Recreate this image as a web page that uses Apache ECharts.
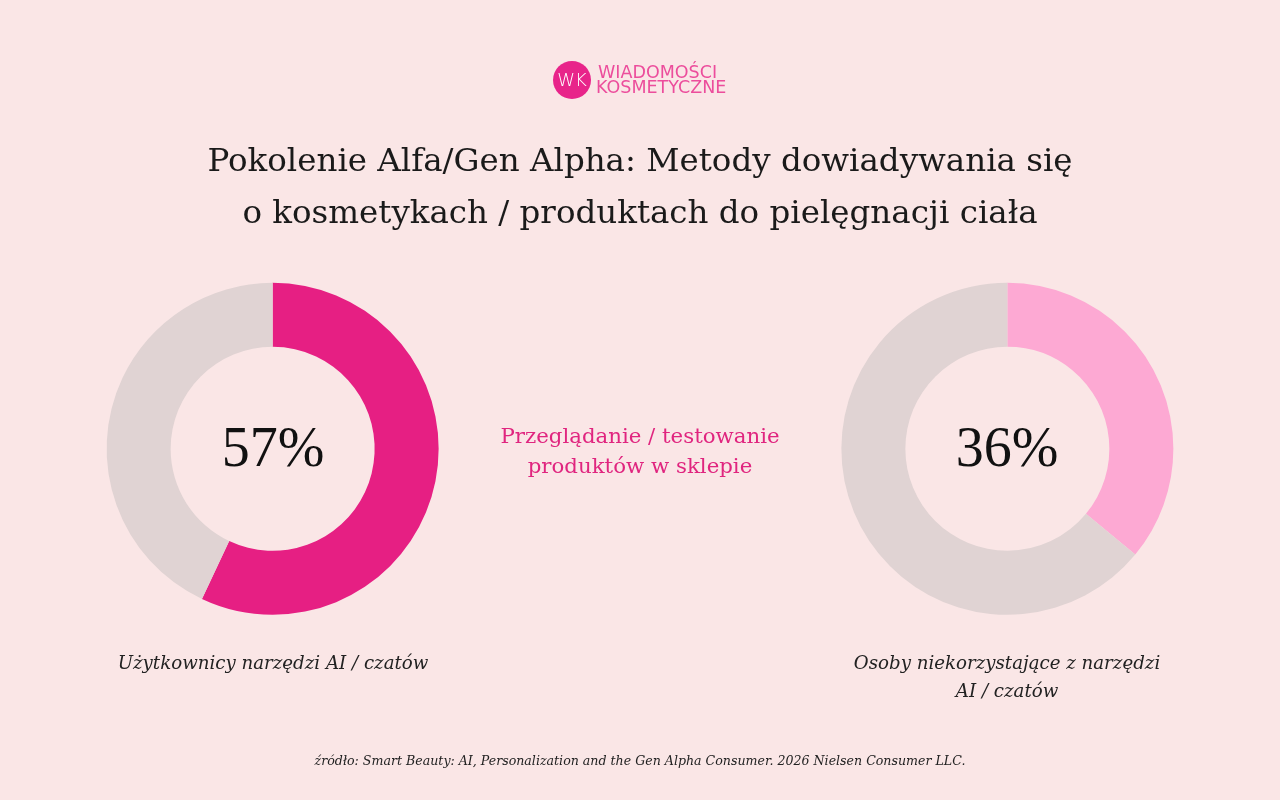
<!DOCTYPE html>
<html>
<head>
<meta charset="utf-8">
<script src="https://cdn.jsdelivr.net/npm/echarts@6/dist/echarts.min.js"></script>
<style>
  html, body { margin: 0; padding: 0; background: #fae6e6; }
  #chart { width: 1280px; height: 800px; }
</style>
</head>
<body>
<div id="chart"></div>
<script>
const titleLines = [
  "Pokolenie Alfa/Gen Alpha: Metody dowiadywania się",
  "o kosmetykach / produktach do pielęgnacji ciała"
];
const middleLabel = ["Przeglądanie / testowanie", "produktów w sklepie"];
const groups = ["Użytkownicy narzędzi AI / czatów", "Osoby niekorzystające z narzędzi\nAI / czatów"];
const shares = [57, 36];
const source = "źródło: Smart Beauty: AI, Personalization and the Gen Alpha Consumer. 2026 Nielsen Consumer LLC.";

const serif = "'DejaVu Serif', serif";
const numFont = "'Liberation Serif', serif";
const grey = "#e0d3d3";
const fills = ["#e61f83", "#fda9d3"];
const centers = [["21.3%", "56.1%"], ["78.7%", "56.1%"]];

const chart = echarts.init(document.getElementById("chart"));

const series = shares.map((v, i) => ({
  type: "pie",
  center: centers[i],
  radius: [102, 166],
  startAngle: 90,
  clockwise: true,
  silent: true,
  label: { show: false },
  labelLine: { show: false },
  data: [
    { value: v, itemStyle: { color: fills[i] } },
    { value: 100 - v, itemStyle: { color: grey } }
  ]
}));

chart.setOption({
  backgroundColor: "#fae6e6",
  animation: false,
  series: series,
  graphic: [
    // logo
    { type: "circle", shape: { cx: 572, cy: 80, r: 19 }, style: { fill: "#e8248a" } },
    { type: "text", x: 572, y: 81, style: { text: "WK", fill: "#fff", font: "300 18px 'DejaVu Sans', sans-serif", align: "center", verticalAlign: "middle" } },
    { type: "text", x: 598, y: 73, style: { text: "WIADOMOŚCI", fill: "#ec4d9c", font: "17.5px 'DejaVu Sans', sans-serif", verticalAlign: "middle" } },
    { type: "text", x: 596, y: 88, style: { text: "KOSMETYCZNE", fill: "#ec4d9c", font: "17.5px 'DejaVu Sans', sans-serif", verticalAlign: "middle" } },
    // title
    { type: "text", x: 640, y: 163, style: { text: titleLines[0], fill: "#1a1a1a", font: "32.5px " + serif, align: "center", verticalAlign: "middle" } },
    { type: "text", x: 640, y: 215, style: { text: titleLines[1], fill: "#1a1a1a", font: "32.5px " + serif, align: "center", verticalAlign: "middle" } },
    // center values
    { type: "text", x: 273, y: 451, style: { text: shares[0] + "%", fill: "#111", font: "56px " + numFont, align: "center", verticalAlign: "middle" } },
    { type: "text", x: 1007, y: 451, style: { text: shares[1] + "%", fill: "#111", font: "56px " + numFont, align: "center", verticalAlign: "middle" } },
    // middle label
    { type: "text", x: 640, y: 437, style: { text: middleLabel[0], fill: "#e0257f", font: "21.3px " + serif, align: "center", verticalAlign: "middle" } },
    { type: "text", x: 640, y: 467, style: { text: middleLabel[1], fill: "#e0257f", font: "21.3px " + serif, align: "center", verticalAlign: "middle" } },
    // group labels
    { type: "text", x: 273, y: 664, style: { text: groups[0], fill: "#222", font: "italic 18.2px " + serif, align: "center", verticalAlign: "middle" } },
    { type: "text", x: 1007, y: 678, style: { text: groups[1], fill: "#222", font: "italic 18.2px " + serif, align: "center", verticalAlign: "middle", lineHeight: 28 } },
    // source
    { type: "text", x: 640, y: 762, style: { text: source, fill: "#222", font: "italic 12.6px " + serif, align: "center", verticalAlign: "middle" } }
  ]
});
</script>
</body>
</html>
